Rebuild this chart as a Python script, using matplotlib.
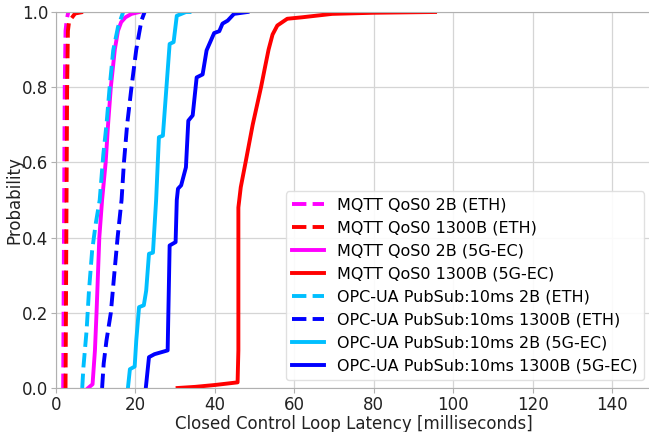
import matplotlib
matplotlib.use('Agg')
import matplotlib.pyplot as plt

# latency CDFs, x in milliseconds, p = cumulative probability
mqtt_2b_eth_x = [1.8, 1.9, 2.0, 2.1, 2.2, 2.4, 2.7, 3.1]
mqtt_2b_eth_p = [0.0, 0.2, 0.4, 0.6, 0.8, 0.95, 0.98, 1.0]

mqtt_1300b_eth_x = [2.4, 2.5, 2.6, 2.7, 2.8, 3.0, 3.3, 4.8, 6.8]
mqtt_1300b_eth_p = [0.0, 0.2, 0.4, 0.6, 0.8, 0.95, 0.975, 0.996, 1.0]

mqtt_2b_5g_x = [8.1, 9.2, 9.8, 10.2, 10.9, 11.6, 12.5, 13.1, 13.8, 14.8, 15.6, 16.4, 17.5, 19.0, 21.0]
mqtt_2b_5g_p = [0.0, 0.01, 0.1, 0.2, 0.4, 0.5, 0.6, 0.7, 0.8, 0.9, 0.95, 0.973, 0.986, 0.995, 1.0]

mqtt_1300b_5g_x = [30.6, 35.0, 40.0, 45.7, 45.9, 45.9, 46.5, 47.8, 49.5, 51.6, 52.6, 53.5,
                   54.5, 55.7, 58.2, 62.0, 69.5, 80.0, 95.4]
mqtt_1300b_5g_p = [0.0, 0.003, 0.008, 0.015, 0.1, 0.48, 0.534, 0.605, 0.7, 0.8, 0.853, 0.9,
                   0.94, 0.964, 0.982, 0.986, 0.995, 0.998, 1.0]

opc_2b_eth_x = [6.6, 6.9, 7.7, 8.3, 9.1, 10.0, 11.0, 11.9, 12.7, 13.5, 14.4, 15.6, 16.9]
opc_2b_eth_p = [0.0, 0.055, 0.153, 0.259, 0.366, 0.437, 0.5, 0.62, 0.7, 0.8, 0.898, 0.96, 1.0]

opc_1300b_eth_x = [11.6, 12.0, 12.7, 13.8, 14.6, 15.5, 16.5, 17.1, 17.9, 19.0, 20.2, 20.9, 21.5, 22.3]
opc_1300b_eth_p = [0.0, 0.065, 0.126, 0.2, 0.295, 0.4, 0.5, 0.6, 0.7, 0.8, 0.9, 0.942, 0.977, 1.0]

opc_2b_5g_x = [18.1, 18.6, 19.8, 20.2, 20.9, 22.1, 22.7, 23.4, 24.4, 25.2, 25.9, 26.9,
               28.6, 29.6, 30.4, 32.7, 33.6]
opc_2b_5g_p = [0.0, 0.05, 0.057, 0.126, 0.215, 0.22, 0.259, 0.357, 0.36, 0.5, 0.667, 0.671,
               0.915, 0.92, 0.99, 1.0, 1.0]

opc_1300b_5g_x = [22.6, 23.4, 24.8, 28.1, 28.6, 30.1, 30.4, 30.7, 31.5, 32.7, 33.3, 34.4,
                  35.4, 36.9, 37.9, 39.8, 41.1, 41.9, 43.2, 44.8, 48.2]
opc_1300b_5g_p = [0.0, 0.082, 0.09, 0.1, 0.379, 0.388, 0.5, 0.53, 0.539, 0.587, 0.711, 0.725,
                  0.826, 0.834, 0.898, 0.944, 0.949, 0.969, 0.977, 0.995, 1.0]

series = [
    (mqtt_2b_eth_x, mqtt_2b_eth_p, 'magenta', '--', 'MQTT QoS0 2B (ETH)'),
    (mqtt_1300b_eth_x, mqtt_1300b_eth_p, 'red', '--', 'MQTT QoS0 1300B (ETH)'),
    (mqtt_2b_5g_x, mqtt_2b_5g_p, 'magenta', '-', 'MQTT QoS0 2B (5G-EC)'),
    (mqtt_1300b_5g_x, mqtt_1300b_5g_p, 'red', '-', 'MQTT QoS0 1300B (5G-EC)'),
    (opc_2b_eth_x, opc_2b_eth_p, 'deepskyblue', '--', 'OPC-UA PubSub:10ms 2B (ETH)'),
    (opc_1300b_eth_x, opc_1300b_eth_p, 'blue', '--', 'OPC-UA PubSub:10ms 1300B (ETH)'),
    (opc_2b_5g_x, opc_2b_5g_p, 'deepskyblue', '-', 'OPC-UA PubSub:10ms 2B (5G-EC)'),
    (opc_1300b_5g_x, opc_1300b_5g_p, 'blue', '-', 'OPC-UA PubSub:10ms 1300B (5G-EC)'),
]

fig = plt.figure(figsize=(6.49, 4.32), dpi=100)
# axes runs slightly past the right border, like the cropped original
ax = fig.add_axes([56 / 649, 1 - 388 / 432, 596 / 649, 376 / 432])

for x, p, color, ls, label in series:
    ax.plot(x, p, color=color, linestyle=ls, linewidth=2.8, label=label)

ax.set_xlim(0, 150)
ax.set_ylim(0, 1.0)
ax.set_xticks(range(0, 141, 20))
ax.set_yticks([0.0, 0.2, 0.4, 0.6, 0.8, 1.0])
ax.set_yticklabels(['0.0', '0.2', '0.4', '0.6', '0.8', '1.0'])
ax.grid(color='#d5d5d5', linewidth=0.9)
ax.set_axisbelow(True)
for s in ax.spines.values():
    s.set_color('#b0b0b0')
ax.tick_params(axis='both', labelsize=12, length=3.5, pad=2, colors='#222222')
ax.tick_params(axis='both', color='#b0b0b0')
ax.set_xlabel('Closed Control Loop Latency [milliseconds]', fontsize=12, color='#222222', labelpad=1)
ax.set_ylabel('Probability', fontsize=12, color='#222222', labelpad=-1)
ax.legend(loc='lower right', fontsize=11.5, framealpha=0.9, edgecolor='#dddddd')

fig.savefig('out.png', dpi=100)
